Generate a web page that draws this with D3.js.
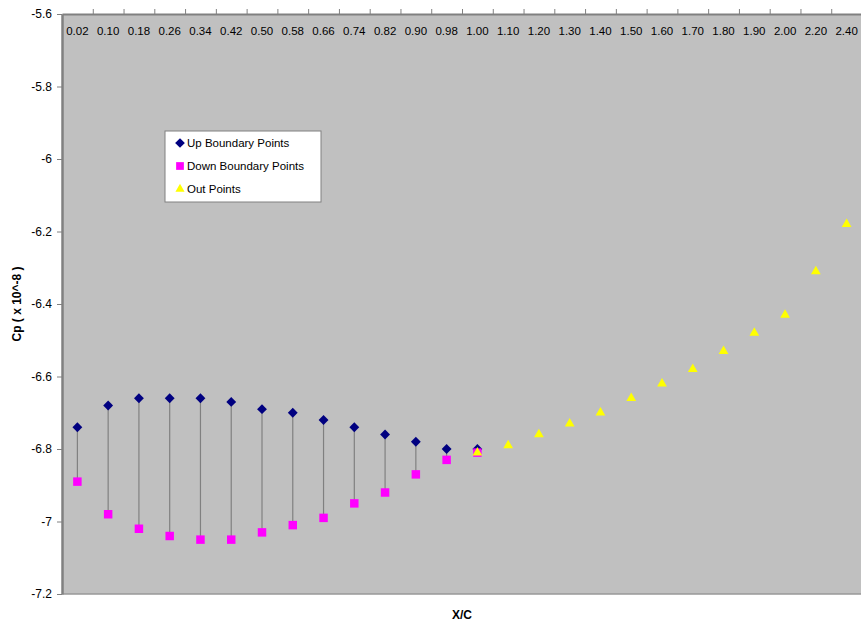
<!DOCTYPE html>
<html>
<head>
<meta charset="utf-8">
<script src="https://cdn.jsdelivr.net/npm/d3@7"></script>
<style>
  body { margin: 0; background: #fff; }
  svg { font-family: "Liberation Sans", Arial, sans-serif; }
</style>
</head>
<body>
<div id="chart"></div>
<script>
// category labels (X/C) along the top axis
const categories = ["0.02", "0.10", "0.18", "0.26", "0.34", "0.42", "0.50", "0.58", "0.66", "0.74",
    "0.82", "0.90", "0.98", "1.00", "1.10", "1.20", "1.30", "1.40", "1.50", "1.60",
    "1.70", "1.80", "1.90", "2.00", "2.20", "2.40"];

// up boundary points (first 14 categories)
const upValues = [-6.74, -6.68, -6.66, -6.66, -6.66, -6.67, -6.69, -6.70, -6.72, -6.74,
    -6.76, -6.78, -6.80, -6.80];

// down boundary points (first 14 categories)
const downValues = [-6.89, -6.98, -7.02, -7.04, -7.05, -7.05, -7.03, -7.01, -6.99, -6.95,
    -6.92, -6.87, -6.83, -6.81];

// out points (from 1.00 onward)
const outCategories = ["1.00", "1.10", "1.20", "1.30", "1.40", "1.50", "1.60", "1.70",
    "1.80", "1.90", "2.00", "2.20", "2.40"];
const outValues = [-6.81, -6.79, -6.76, -6.73, -6.70, -6.66, -6.62, -6.58, -6.53, -6.48,
    -6.43, -6.31, -6.18];

const yTicks = [-5.6, -5.8, -6, -6.2, -6.4, -6.6, -6.8, -7, -7.2];

const W = 861, H = 625;
const margin = { top: 14, right: -1, bottom: 31, left: 62 };
const width = W - margin.left - margin.right;
const height = H - margin.top - margin.bottom;

const svg = d3.select("#chart")
    .append("svg")
    .attr("width", W)
    .attr("height", H)
    .append("g")
    .attr("transform", `translate(${margin.left}, ${margin.top})`);

const x = d3.scaleBand()
    .domain(categories)
    .range([0, width]);

const xEdge = d3.scaleLinear()
    .domain([0, categories.length])
    .range([0, width]);

const y = d3.scaleLinear()
    .domain([-7.2, -5.6])
    .range([height, 0]);

const cx = c => x(c) + x.bandwidth() / 2;

// plot background
svg.append("rect")
    .attr("width", width)
    .attr("height", height)
    .attr("fill", "#c0c0c0");

// bottom border
svg.append("line")
    .attr("x1", 0).attr("x2", width)
    .attr("y1", height).attr("y2", height)
    .attr("stroke", "#999")
    .attr("stroke-width", 1.5);

// top axis: ticks at category boundaries
const topAxis = svg.append("g")
    .call(d3.axisTop(xEdge)
        .tickValues(d3.range(1, categories.length))
        .tickFormat("")
        .tickSizeInner(5)
        .tickSizeOuter(0));
topAxis.select(".domain").attr("stroke", "#808080").attr("stroke-width", 2);
topAxis.selectAll(".tick line").attr("stroke", "#808080");

// category labels inside plot under the top line
const labelAxis = svg.append("g")
    .call(d3.axisBottom(x).tickSize(0).tickPadding(13));
labelAxis.select(".domain").remove();
labelAxis.selectAll("text")
    .attr("fill", "#000")
    .style("font-size", "11.5px");

// y axis (plain hyphen minus like the original)
const yAxis = svg.append("g")
    .call(d3.axisLeft(y)
        .tickValues(yTicks)
        .tickFormat(d => String(d))
        .tickSizeInner(5)
        .tickSizeOuter(0)
        .tickPadding(5));
yAxis.select(".domain").attr("stroke", "#808080").attr("stroke-width", 2.5);
yAxis.selectAll(".tick line").attr("stroke", "#808080");
yAxis.selectAll("text")
    .attr("fill", "#000")
    .style("font-size", "12px");

// drop lines between up and down points
svg.selectAll(".drop")
    .data(upValues)
    .enter().append("line")
    .attr("class", "drop")
    .attr("x1", (d, i) => cx(categories[i]))
    .attr("x2", (d, i) => cx(categories[i]))
    .attr("y1", d => y(d))
    .attr("y2", (d, i) => y(downValues[i]))
    .attr("stroke", "#808080")
    .attr("stroke-width", 1.2);

const diamond = d3.symbol().type(d3.symbolDiamond2).size(62);
const square = d3.symbol().type(d3.symbolSquare).size(72);
const triangle = d3.symbol().type(d3.symbolTriangle2).size(68);

svg.selectAll(".up")
    .data(upValues)
    .enter().append("path")
    .attr("class", "up")
    .attr("d", diamond)
    .attr("transform", (d, i) => `translate(${cx(categories[i])}, ${y(d)})`)
    .attr("fill", "#000080");

svg.selectAll(".down")
    .data(downValues)
    .enter().append("path")
    .attr("class", "down")
    .attr("d", square)
    .attr("transform", (d, i) => `translate(${cx(categories[i])}, ${y(d)})`)
    .attr("fill", "#ff00ff");

svg.selectAll(".out")
    .data(outValues)
    .enter().append("path")
    .attr("class", "out")
    .attr("d", triangle)
    .attr("transform", (d, i) => `translate(${cx(outCategories[i])}, ${y(d)})`)
    .attr("fill", "#ffff00");

// axis titles
svg.append("text")
    .attr("x", 462 - margin.left)
    .attr("y", height + 25)
    .attr("text-anchor", "middle")
    .style("font-size", "12px")
    .style("font-weight", "bold")
    .text("X/C");

svg.append("text")
    .attr("transform", `translate(${21 - margin.left}, ${304 - margin.top}) rotate(-90)`)
    .attr("text-anchor", "middle")
    .style("font-size", "12px")
    .style("font-weight", "bold")
    .text("Cp ( x 10^-8 )");

// legend
const legend = svg.append("g")
    .attr("transform", `translate(${165 - margin.left}, ${131 - margin.top})`);
legend.append("rect")
    .attr("width", 156)
    .attr("height", 71)
    .attr("fill", "#fff")
    .attr("stroke", "#808080");

const legendItems = [
    { label: "Up Boundary Points", shape: diamond, color: "#000080" },
    { label: "Down Boundary Points", shape: square, color: "#ff00ff" },
    { label: "Out Points", shape: triangle, color: "#ffff00" }
];

const li = legend.selectAll(".li")
    .data(legendItems)
    .enter().append("g")
    .attr("transform", (d, i) => `translate(0, ${12 + i * 23})`);
li.append("path")
    .attr("d", d => d.shape.size(60)())
    .attr("transform", "translate(15, 0)")
    .attr("fill", d => d.color);
li.append("text")
    .attr("x", 22)
    .attr("dy", "0.35em")
    .style("font-size", "11.5px")
    .text(d => d.label);
</script>
</body>
</html>
